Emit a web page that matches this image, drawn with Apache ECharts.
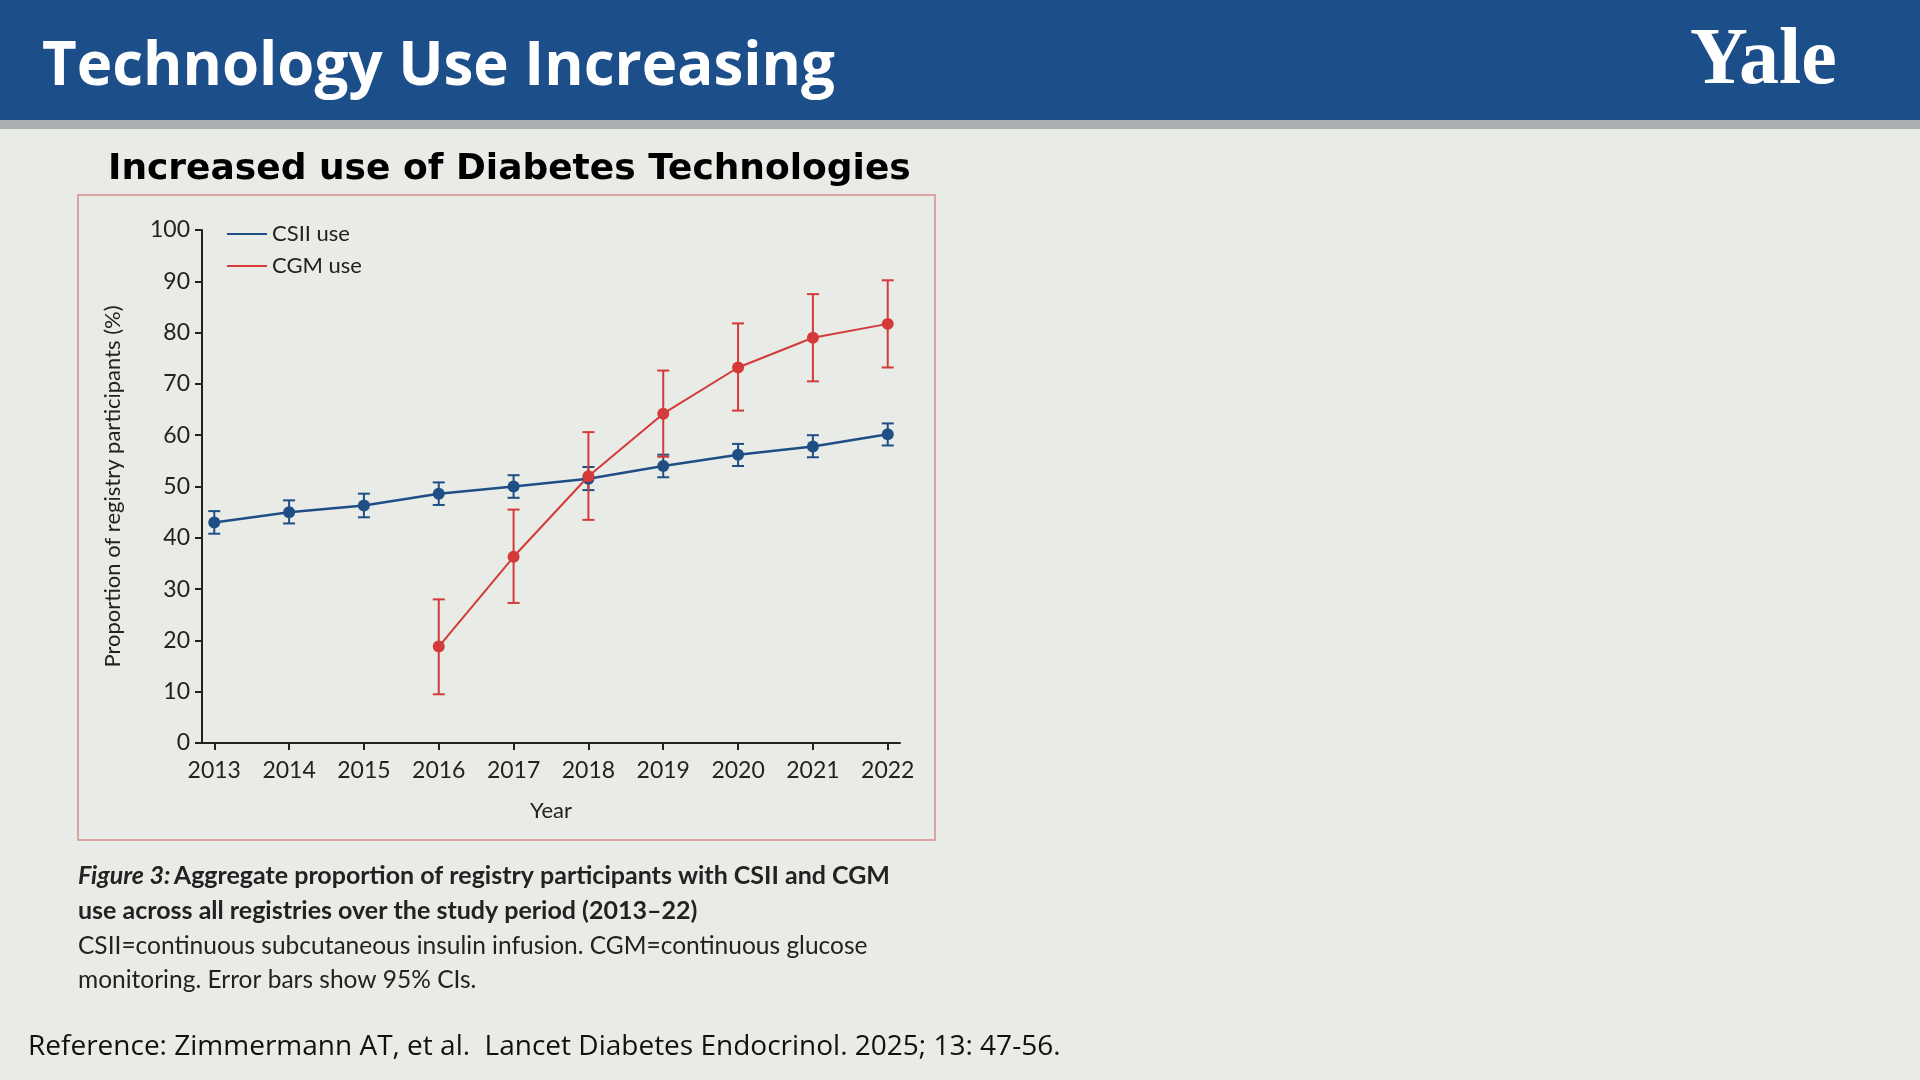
<!DOCTYPE html>
<html>
<head>
<meta charset="utf-8">
<script src="https://cdn.jsdelivr.net/npm/echarts@6/dist/echarts.min.js"></script>
<style>
html, body { margin: 0; padding: 0; background: #e8ebe6; }
#chart { width: 1920px; height: 1080px; }
</style>
</head>
<body>
<div id="chart"></div>
<script>
const years = [2013, 2014, 2015, 2016, 2017, 2018, 2019, 2020, 2021, 2022]
const csii = [43, 45, 46.3, 48.6, 50, 51.5, 54, 56.2, 57.8, 60.2]
const csiiLow = [40.8, 42.8, 44, 46.4, 47.8, 49.3, 51.8, 54, 55.7, 58]
const csiiHigh = [45.2, 47.3, 48.6, 50.8, 52.2, 53.8, 56.2, 58.3, 60, 62.3]
const cgmYears = [2016, 2017, 2018, 2019, 2020, 2021, 2022]
const cgm = [18.8, 36.3, 52, 64.2, 73.2, 79, 81.7]
const cgmLow = [9.5, 27.3, 43.5, 55.8, 64.8, 70.5, 73.2]
const cgmHigh = [28, 45.5, 60.6, 72.6, 81.8, 87.5, 90.2]

const blue = '#1f4e85'
const red = '#d43a3a'
const font = 'Lato, "Open Sans", sans-serif'

function errBars(xs, lo, hi, color) {
    return {
        type: 'custom',
        data: xs.map((x, i) => [x, lo[i], hi[i]]),
        z: 1,
        renderItem: (params, api) => {
            const a = api.coord([api.value(0), api.value(1)])
            const b = api.coord([api.value(0), api.value(2)])
            const w = 6
            const st = {stroke: color, lineWidth: 2}
            return {
                type: 'group',
                children: [
                    {type: 'line', shape: {x1: a[0], y1: a[1], x2: b[0], y2: b[1]}, style: st},
                    {type: 'line', shape: {x1: a[0] - w, y1: a[1], x2: a[0] + w, y2: a[1]}, style: st},
                    {type: 'line', shape: {x1: b[0] - w, y1: b[1], x2: b[0] + w, y2: b[1]}, style: st}
                ]
            }
        }
    }
}

const chart = echarts.init(document.getElementById('chart'))
chart.setOption({
    backgroundColor: '#e8ebe6',
    animation: false,
    grid: {left: 202, right: 1020, top: 230, bottom: 337},
    xAxis: {
        type: 'value', min: 2012.836, max: 2022.164,
        splitLine: {show: false},
        axisLine: {lineStyle: {color: '#222', width: 2}},
        axisTick: {show: true, customValues: years, length: 7, lineStyle: {color: '#222', width: 2}},
        axisLabel: {customValues: years, color: '#222', fontSize: 23, fontFamily: font, margin: 16,
            formatter: v => String(Math.round(v))},
        name: 'Year', nameLocation: 'middle', nameGap: 57,
        nameTextStyle: {color: '#222', fontSize: 22, fontFamily: font}
    },
    yAxis: {
        type: 'value', min: 0, max: 100, interval: 10,
        splitLine: {show: false},
        axisLine: {show: true, lineStyle: {color: '#222', width: 2}},
        axisTick: {show: true, length: 7, lineStyle: {color: '#222', width: 2}},
        axisLabel: {color: '#222', fontSize: 23, fontFamily: font, margin: 12},
        name: 'Proportion of registry participants (%)', nameLocation: 'middle', nameGap: 78,
        nameTextStyle: {color: '#222', fontSize: 22, fontFamily: font}
    },
    legend: {
        left: 222, top: 218, orient: 'vertical', itemGap: 10,
        itemWidth: 40, itemHeight: 2, icon: 'rect',
        textStyle: {color: '#222', fontSize: 22, fontFamily: font},
        data: ['CSII use', 'CGM use']
    },
    series: [
        errBars(years, csiiLow, csiiHigh, blue),
        errBars(cgmYears, cgmLow, cgmHigh, red),
        {name: 'CSII use', type: 'line', data: years.map((y, i) => [y, csii[i]]),
            color: blue, symbol: 'circle', symbolSize: 12, lineStyle: {width: 2.5}, z: 3},
        {name: 'CGM use', type: 'line', data: cgmYears.map((y, i) => [y, cgm[i]]),
            color: red, symbol: 'circle', symbolSize: 12, lineStyle: {width: 2}, z: 4}
    ],
    graphic: [
        {type: 'rect', shape: {x: 0, y: 0, width: 1920, height: 120}, style: {fill: '#1c4f8a'}},
        {type: 'rect', shape: {x: 0, y: 120, width: 1920, height: 9}, style: {fill: '#a9aeb0'}},
        {type: 'text', left: 42, top: 38, style: {text: 'Technology Use Increasing', fill: '#fff',
            font: 'bold 60px "Open Sans", sans-serif', shadowColor: 'rgba(0,0,0,0.5)', shadowBlur: 4, shadowOffsetX: 2, shadowOffsetY: 2}},
        {type: 'text', left: 1690, top: 22, style: {text: 'Yale', fill: '#fff',
            font: 'bold 80px "Liberation Serif", serif'}},
        {type: 'text', left: 108, top: 152, style: {text: 'Increased use of Diabetes Technologies', fill: '#000',
            font: 'bold 36px "DejaVu Sans", sans-serif'}},
        {type: 'rect', shape: {x: 78, y: 195, width: 857, height: 645}, style: {fill: 'none', stroke: '#d88a8f', lineWidth: 1.5}},
        {type: 'text', left: 78, top: 863, style: {rich: {
            i: {font: 'italic bold 25px Lato, sans-serif', fill: '#222'},
            b: {font: 'bold 25px Lato, sans-serif', fill: '#222'}
        }, text: '{i|Figure 3:} {b|Aggregate proportion of registry participants with CSII and CGM}'}},
        {type: 'text', left: 78, top: 898, style: {text: 'use across all registries over the study period (2013–22)', fill: '#222',
            font: 'bold 25px Lato, sans-serif'}},
        {type: 'text', left: 78, top: 934, style: {text: 'CSII=continuous subcutaneous insulin infusion. CGM=continuous glucose', fill: '#222',
            font: '24.5px Lato, sans-serif'}},
        {type: 'text', left: 78, top: 968, style: {text: 'monitoring. Error bars show 95% CIs.', fill: '#222',
            font: '24.5px Lato, sans-serif'}},
        {type: 'text', left: 28, top: 1033, style: {text: 'Reference: Zimmermann AT, et al.  Lancet Diabetes Endocrinol. 2025; 13: 47-56.', fill: '#111',
            font: '28px "Open Sans", sans-serif'}}
    ]
})
</script>
</body>
</html>
